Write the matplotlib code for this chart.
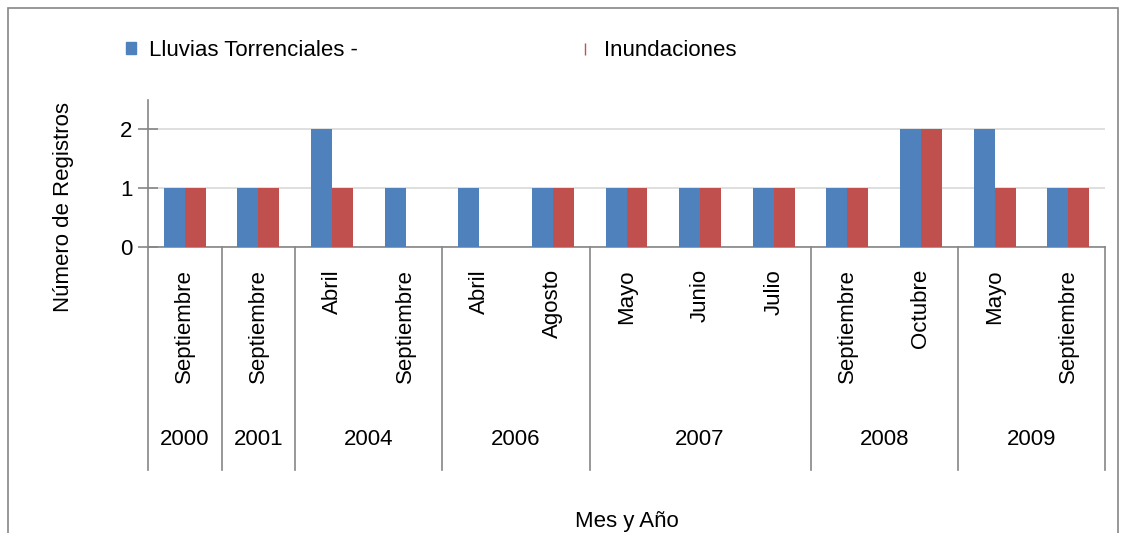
import matplotlib
matplotlib.use("Agg")
import matplotlib.pyplot as plt
from matplotlib.lines import Line2D
from matplotlib.patches import Rectangle
import matplotlib.transforms as mtransforms
import numpy as np

months = ["Septiembre", "Septiembre", "Abril", "Septiembre", "Abril", "Agosto",
          "Mayo", "Junio", "Julio", "Septiembre", "Octubre", "Mayo", "Septiembre"]
years = ["2000", "2001", "2004", "2006", "2007", "2008", "2009"]
year_counts = [1, 1, 2, 2, 3, 2, 2]
lluvias = [1, 1, 2, 1, 1, 1, 1, 1, 1, 1, 2, 2, 1]
inundaciones = [1, 1, 1, 0, 0, 1, 1, 1, 1, 1, 2, 1, 1]

BLUE = "#4f81bd"
RED = "#c0504d"
GRID = "#d9d9d9"
AXC = "#868686"

plt.rcParams['font.family'] = ['Liberation Sans Narrow', 'Liberation Sans', 'DejaVu Sans']
FS = 16

W, H = 1128, 533
fig = plt.figure(figsize=(W / 100, H / 100), dpi=100)
ax = fig.add_axes([148 / W, 1 - 247 / H, (1105 - 148) / W, (247 - 100) / H])

x = np.arange(len(months))
bw = 0.285
b1 = ax.bar(x - bw / 2, lluvias, bw, color=BLUE, zorder=3)
b2 = ax.bar(x + bw / 2, inundaciones, bw, color=RED, zorder=3)

ax.set_xlim(-0.5, len(months) - 0.5)
ax.set_ylim(0, 2.5)
ax.set_yticks([0, 1, 2])
ax.set_yticklabels(["0", "1", "2"], fontsize=FS)
ax.yaxis.grid(True, color=GRID, lw=1.2, zorder=0)
ax.set_xticks([])
for s in ["top", "right"]:
    ax.spines[s].set_visible(False)
for s in ["left", "bottom"]:
    ax.spines[s].set_color(AXC)
    ax.spines[s].set_linewidth(1.2)
ax.tick_params(axis='y', direction='inout', length=14, width=1.2, color=AXC, pad=4)

trans = mtransforms.blended_transform_factory(ax.transData, ax.transAxes)
for xi, m in zip(x, months):
    ax.text(xi, -0.15, m, rotation=90, ha='center', va='top', fontsize=FS,
            transform=trans)

bounds = np.concatenate([[0], np.cumsum(year_counts)]) - 0.5
for b in bounds:
    ax.plot([b, b], [0, -1.52], color=AXC, lw=1.2, transform=trans, clip_on=False)
for i, yr in enumerate(years):
    c = (bounds[i] + bounds[i + 1]) / 2
    ax.text(c, -1.31, yr, ha='center', va='center', fontsize=FS, transform=trans)

ax.set_ylabel("Número de Registros", fontsize=FS, labelpad=0)
ax.yaxis.set_label_coords(-0.077, 0.27)
fig.text(627 / W, 1 - 521 / H, "Mes y Año", ha='center', va='center', fontsize=FS)

# legend
h1 = Rectangle((0, 0), 1, 1, color=BLUE)
h2 = Line2D([], [], color=RED, marker='|', linestyle='None', markersize=9, markeredgewidth=1)
fig.legend([h1, h2], ["Lluvias Torrenciales -", "Inundaciones"], ncol=2,
           loc='center left', bbox_to_anchor=(106 / W, 1 - 50 / H), frameon=False,
           fontsize=FS, handlelength=0.45, handleheight=0.45, handletextpad=0.6,
           columnspacing=10.0)

# outer border
fig.add_artist(Rectangle((8 / W, -0.05), (1118 - 8) / W, 1.05 - 8 / H,
                         transform=fig.transFigure, fill=False, edgecolor=AXC, lw=1.2))

fig.savefig("out.png", dpi=100)
